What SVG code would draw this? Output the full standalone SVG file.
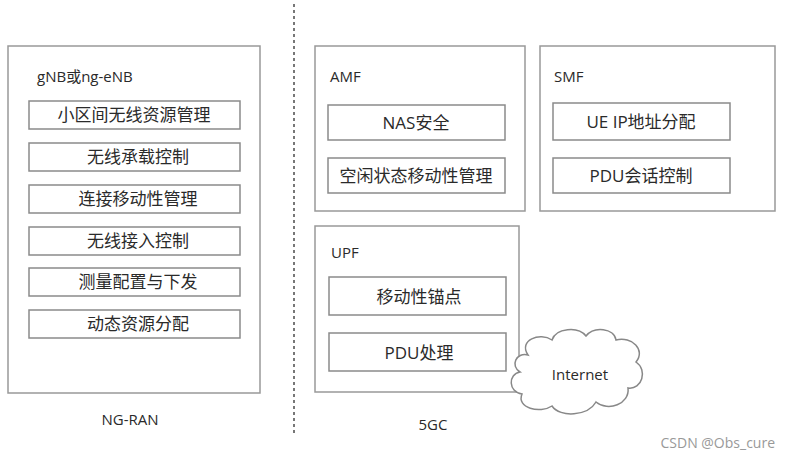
<svg xmlns="http://www.w3.org/2000/svg" width="786" height="460" viewBox="0 0 786 460">
<style>
.box{fill:#fff;stroke:#999;stroke-width:1.5}
.in{fill:#fff;stroke:#8a8a8a;stroke-width:1.5}
text{font-family:"Open Sans","Noto Sans CJK SC",sans-serif;fill:#2a2a2a;font-size:17px}
.c{text-anchor:middle}
.t{font-size:15px}
</style>
<rect width="786" height="460" fill="#fff"/>
<g id="connectors">
<line x1="294" y1="4" x2="294" y2="436" stroke="#777" stroke-width="2" stroke-dasharray="3,3"/>
</g>
<g id="ngran">
<rect class="box" x="8" y="46" width="252" height="347"/>
<text x="37" y="82" class="t">gNB或ng-eNB</text>
<rect class="in" x="29" y="101" width="211" height="28"/><text class="c" x="134" y="121">小区间无线资源管理</text>
<rect class="in" x="29" y="143" width="211" height="28"/><text class="c" x="138" y="163">无线承载控制</text>
<rect class="in" x="29" y="185" width="211" height="28"/><text class="c" x="138" y="205">连接移动性管理</text>
<rect class="in" x="29" y="227" width="211" height="28"/><text class="c" x="138" y="247">无线接入控制</text>
<rect class="in" x="29" y="268" width="211" height="28"/><text class="c" x="138" y="288">测量配置与下发</text>
<rect class="in" x="29" y="310" width="211" height="28"/><text class="c" x="138" y="330">动态资源分配</text>
<text class="c t" x="130" y="425">NG-RAN</text>
</g>
<g id="amf">
<rect class="box" x="315" y="46" width="210" height="165"/>
<text x="330" y="82" class="t">AMF</text>
<rect class="in" x="328" y="105" width="177" height="35"/><text class="c" x="416" y="129">NAS安全</text>
<rect class="in" x="328" y="158" width="177" height="35"/><text class="c" x="416" y="182">空闲状态移动性管理</text>
</g>
<g id="smf">
<rect class="box" x="540" y="46" width="235" height="165"/>
<text x="554" y="82" class="t">SMF</text>
<rect class="in" x="553" y="103" width="177" height="37"/><text class="c" x="641" y="128">UE IP地址分配</text>
<rect class="in" x="553" y="158" width="177" height="35"/><text class="c" x="641" y="182">PDU会话控制</text>
</g>
<g id="upf">
<rect class="box" x="315" y="226" width="204" height="166"/>
<text x="331" y="258" class="t">UPF</text>
<rect class="in" x="329" y="277" width="177" height="38"/><text class="c" x="419" y="303">移动性锚点</text>
<rect class="in" x="329" y="333" width="177" height="38"/><text class="c" x="419" y="359">PDU处理</text>
</g>
<g id="internet">
<path d="M528,355 C518,340 540,332 552,340 C556,328 578,326 586,336 C594,326 614,328 616,340 C632,336 646,350 636,362 C648,370 642,390 628,388 C630,404 608,412 596,402 C588,416 560,418 552,406 C540,414 516,408 522,394 C508,392 508,374 520,372 C510,366 516,352 528,355 Z" fill="#fff" stroke="#888" stroke-width="1.5"/>
<text class="c t" x="580" y="380">Internet</text>
</g>
<text class="c t" x="433" y="430">5GC</text>
<text x="775" y="448" text-anchor="end" style="font-size:14px;fill:#999">CSDN @Obs_cure</text>
</svg>
